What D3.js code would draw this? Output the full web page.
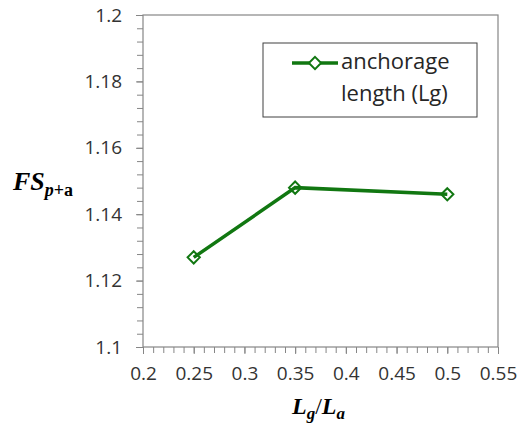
<!DOCTYPE html>
<html>
<head>
<meta charset="utf-8">
<script src="https://cdn.jsdelivr.net/npm/d3@7"></script>
<style>
  body { margin: 0; background: #fff; }
  #chart { width: 518px; height: 432px; }
  .tick text { font-family: "Open Sans", sans-serif; font-size: 19px; fill: #333; }
  .ttl { font-family: "Liberation Serif", "Times New Roman", serif; font-weight: bold; fill: #000; }
</style>
</head>
<body>
<div id="chart"></div>
<script>
// data
const ratios = [0.25, 0.35, 0.5];
const fsValues = [1.127, 1.148, 1.146];
const seriesName = ["anchorage", "length (Lg)"];
const xTicks = [0.2, 0.25, 0.3, 0.35, 0.4, 0.45, 0.5, 0.55];
const yTicks = [1.1, 1.12, 1.14, 1.16, 1.18, 1.2];

const width = 518, height = 432;
const margin = { top: 15, right: 20, bottom: 85, left: 143 };
const plotW = width - margin.left - margin.right;
const plotH = height - margin.top - margin.bottom;
const green = "#117711";
const axisCol = "#868686";

const svg = d3.select("#chart").append("svg")
    .attr("width", width)
    .attr("height", height);

const g = svg.append("g")
    .attr("transform", `translate(${margin.left},${margin.top})`);

const x = d3.scaleLinear().domain([0.2, 0.55]).range([0, plotW]);
const y = d3.scaleLinear().domain([1.1, 1.2]).range([plotH, 0]);

// minor ticks (no labels)
const xMinor = d3.range(0, 36).map(i => 0.2 + i * 0.01);
const yMinor = d3.range(0, 26).map(i => 1.1 + i * 0.004);

g.append("g")
    .attr("transform", `translate(0,${plotH})`)
    .call(d3.axisBottom(x).tickValues(xMinor).tickFormat("").tickSize(6).tickSizeOuter(0))
    .call(a => a.selectAll("line").attr("stroke", axisCol))
    .call(a => a.select(".domain").remove());

g.append("g")
    .call(d3.axisLeft(y).tickValues(yMinor).tickFormat("").tickSize(6).tickSizeOuter(0))
    .call(a => a.selectAll("line").attr("stroke", axisCol))
    .call(a => a.select(".domain").remove());

// major ticks + labels
g.append("g")
    .attr("transform", `translate(0,${plotH})`)
    .call(d3.axisBottom(x).tickValues(xTicks).tickFormat(d3.format("")).tickSize(7).tickPadding(13).tickSizeOuter(0))
    .call(a => a.selectAll("line").attr("stroke", axisCol))
    .call(a => a.select(".domain").remove());

g.append("g")
    .call(d3.axisLeft(y).tickValues(yTicks).tickFormat(d3.format("")).tickSize(7).tickPadding(14).tickSizeOuter(0))
    .call(a => a.selectAll("line").attr("stroke", axisCol))
    .call(a => a.select(".domain").remove());

// plot frame
g.append("rect")
    .attr("x", 0).attr("y", 0)
    .attr("width", plotW).attr("height", plotH)
    .attr("fill", "none")
    .attr("stroke", axisCol)
    .attr("stroke-width", 1.2);

// series line
const pts = ratios.map((r, i) => ({ r: r, v: fsValues[i] }));
const line = d3.line().x(d => x(d.r)).y(d => y(d.v));

g.append("path")
    .datum(pts)
    .attr("fill", "none")
    .attr("stroke", green)
    .attr("stroke-width", 3.5)
    .attr("d", line);

const diamond = d3.symbol().type(d3.symbolDiamond2).size(95);

g.selectAll(".mk")
    .data(pts)
    .enter()
    .append("path")
    .attr("class", "mk")
    .attr("transform", d => `translate(${x(d.r)},${y(d.v)})`)
    .attr("d", diamond)
    .attr("fill", "none")
    .attr("stroke", green)
    .attr("stroke-width", 2);

// legend
const lg = svg.append("g").attr("transform", "translate(263,43)");
lg.append("rect")
    .attr("width", 214).attr("height", 74)
    .attr("fill", "#fff")
    .attr("stroke", "#404040")
    .attr("stroke-width", 1);
lg.append("line")
    .attr("x1", 29).attr("x2", 75).attr("y1", 20).attr("y2", 20)
    .attr("stroke", green).attr("stroke-width", 3.5);
lg.append("path")
    .attr("transform", "translate(52,20)")
    .attr("d", diamond)
    .attr("fill", "#fff")
    .attr("stroke", green)
    .attr("stroke-width", 2);
lg.selectAll(".lt")
    .data(seriesName)
    .enter()
    .append("text")
    .attr("x", 78)
    .attr("y", (d, i) => 26 + i * 32)
    .attr("font-family", "Open Sans, sans-serif")
    .attr("font-size", 22)
    .attr("fill", "#262626")
    .text(d => d);

// y axis title FS_{p+a}
const yt = svg.append("text")
    .attr("class", "ttl")
    .attr("x", 13)
    .attr("y", 190)
    .attr("font-size", 26);
yt.append("tspan").attr("font-style", "italic").text("FS");
yt.append("tspan").attr("font-style", "italic").attr("font-size", 18).attr("dy", 6).text("p");
yt.append("tspan").attr("font-size", 18).text("+a");

// x axis title L_g/L_a
const xt = svg.append("text")
    .attr("class", "ttl")
    .attr("x", 292)
    .attr("y", 414)
    .attr("font-size", 24)
    .attr("font-style", "italic");
xt.append("tspan").text("L");
xt.append("tspan").attr("font-size", 17).attr("dy", 5).text("g");
xt.append("tspan").attr("font-style", "normal").attr("font-weight", "normal").attr("dy", -5).text("/");
xt.append("tspan").text("L");
xt.append("tspan").attr("font-size", 17).attr("dy", 5).text("a");
</script>
</body>
</html>
